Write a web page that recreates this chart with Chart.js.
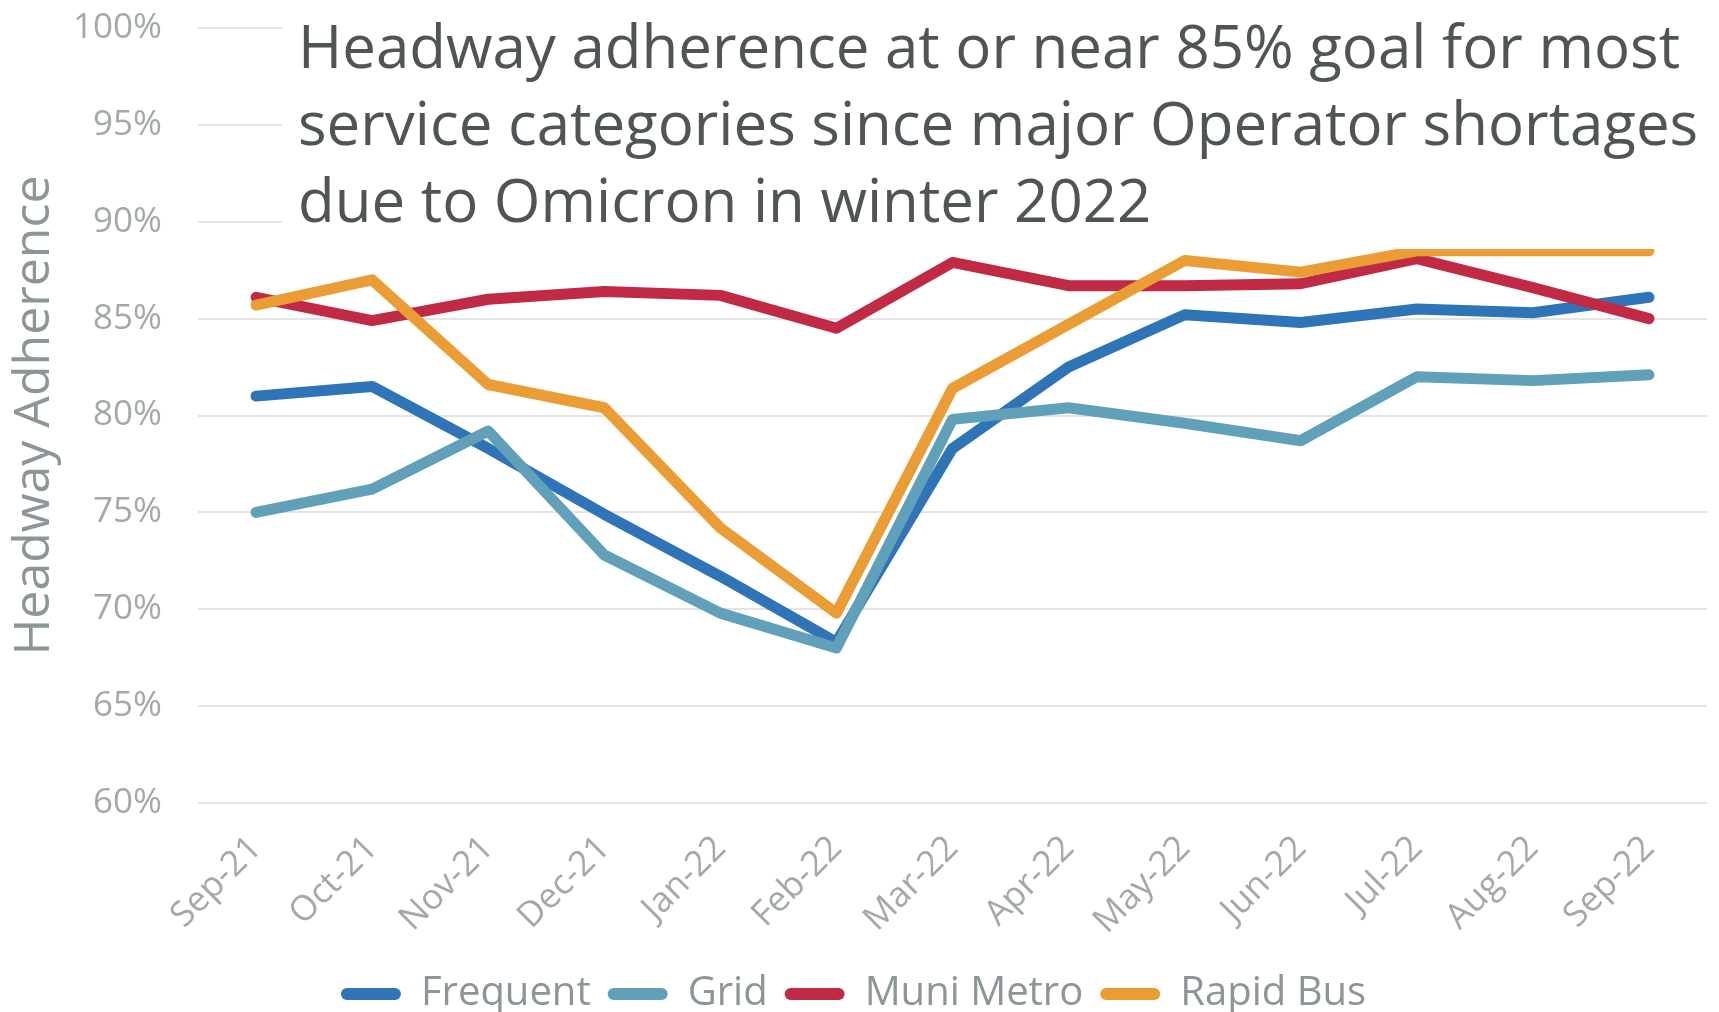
<!DOCTYPE html>
<html lang="en">

<head>
    <meta charset="UTF-8">
    <title>Headway Adherence</title>
    <script src="https://cdn.jsdelivr.net/npm/chart.js"></script>
    <style>
        html, body {
            margin: 0;
            padding: 0;
            background: #fff;
        }

        .container {
            width: 1719px;
            height: 1012px;
        }
    </style>
</head>

<body>
    <div class="container">
        <canvas id="myChart"></canvas>
    </div>
    <script>
        const months = ['Sep-21', 'Oct-21', 'Nov-21', 'Dec-21', 'Jan-22', 'Feb-22', 'Mar-22',
            'Apr-22', 'May-22', 'Jun-22', 'Jul-22', 'Aug-22', 'Sep-22'];

        const frequent = [81.0, 81.5, 78.3, 74.9, 71.7, 68.3, 78.3, 82.5, 85.2, 84.8, 85.5, 85.3, 86.1];
        const grid = [75.0, 76.2, 79.2, 72.8, 69.8, 68.0, 79.8, 80.4, 79.6, 78.7, 82.0, 81.8, 82.1];
        const muniMetro = [86.1, 84.9, 86.0, 86.4, 86.2, 84.5, 87.9, 86.7, 86.7, 86.8, 88.1, 86.6, 85.0];
        const rapidBus = [85.7, 87.0, 81.6, 80.4, 74.2, 69.8, 81.4, 84.7, 88.0, 87.4, 88.5, 88.5, 88.5];

        const titleLines = [
            'Headway adherence at or near 85% goal for most',
            'service categories since major Operator shortages',
            'due to Omicron in winter 2022'
        ];

        const FONT = "'Open Sans', sans-serif";

        // title sits inside the plot, on a white box that hides the top grid lines
        const titleBox = {
            id: 'titleBox',
            afterDatasetsDraw(chart) {
                const c = chart.ctx;
                c.save();
                c.fillStyle = '#ffffff';
                c.fillRect(282, 0, chart.width - 282, 249);
                c.fillStyle = '#4f5557';
                c.font = '60px ' + FONT;
                c.textBaseline = 'alphabetic';
                titleLines.forEach((t, i) => c.fillText(t, 298, 68 + i * 77));
                c.restore();
            }
        };

        const line = (label, data, color, order) => ({
            label: label,
            data: data,
            borderColor: color,
            backgroundColor: color,
            borderWidth: 11,
            borderCapStyle: 'round',
            borderJoinStyle: 'round',
            pointRadius: 0,
            pointHoverRadius: 0,
            tension: 0,
            order: order
        });

        const ctx = document.getElementById('myChart').getContext('2d');

        const myChart = new Chart(ctx, {
            type: 'line',
            data: {
                labels: months,
                datasets: [
                    line('Frequent', frequent, '#2e74b7', 4),
                    line('Grid', grid, '#60a0b9', 3),
                    line('Muni Metro', muniMetro, '#c02a45', 2),
                    line('Rapid Bus', rapidBus, '#ea9d35', 1)
                ]
            },
            options: {
                responsive: true,
                maintainAspectRatio: false,
                animation: false,
                layout: {
                    padding: { top: 28, left: 0, right: 12, bottom: -12 }
                },
                scales: {
                    x: {
                        offset: true,
                        grid: { display: false, drawTicks: false },
                        border: { display: false },
                        ticks: {
                            minRotation: 45,
                            maxRotation: 45,
                            autoSkip: false,
                            padding: 25,
                            color: '#a3a9ab',
                            font: { family: FONT, size: 35 }
                        },
                        afterFit(scale) {
                            scale.height = 154;
                        }
                    },
                    y: {
                        min: 60,
                        max: 100,
                        // invisible tick marks give the gap before the labels
                        grid: { color: '#e4e4e4', lineWidth: 2, drawTicks: true, tickLength: 36, tickColor: 'rgba(0,0,0,0)' },
                        border: { display: false },
                        ticks: {
                            stepSize: 5,
                            padding: 0,
                            color: '#a3a9ab',
                            font: { family: FONT, size: 35 },
                            callback: v => v + '%'
                        },
                        title: {
                            display: true,
                            text: 'Headway Adherence',
                            color: '#8c9597',
                            font: { family: FONT, size: 50 },
                            padding: { top: 5, bottom: 0 }
                        },
                        afterFit(scale) {
                            scale.width = 198;
                        }
                    }
                },
                plugins: {
                    title: { display: false },
                    tooltip: { enabled: false },
                    legend: {
                        position: 'bottom',
                        labels: {
                            boxWidth: 60,
                            boxHeight: 12,
                            padding: 17,
                            color: '#8c9597',
                            font: { family: FONT, size: 40 },
                            sort: (a, b) => a.datasetIndex - b.datasetIndex,
                            generateLabels: chart => Chart.defaults.plugins.legend.labels.generateLabels(chart)
                                .map(l => Object.assign(l, { lineWidth: 0, borderRadius: 6 }))
                        }
                    }
                }
            },
            plugins: [titleBox]
        });
    </script>
</body>

</html>
